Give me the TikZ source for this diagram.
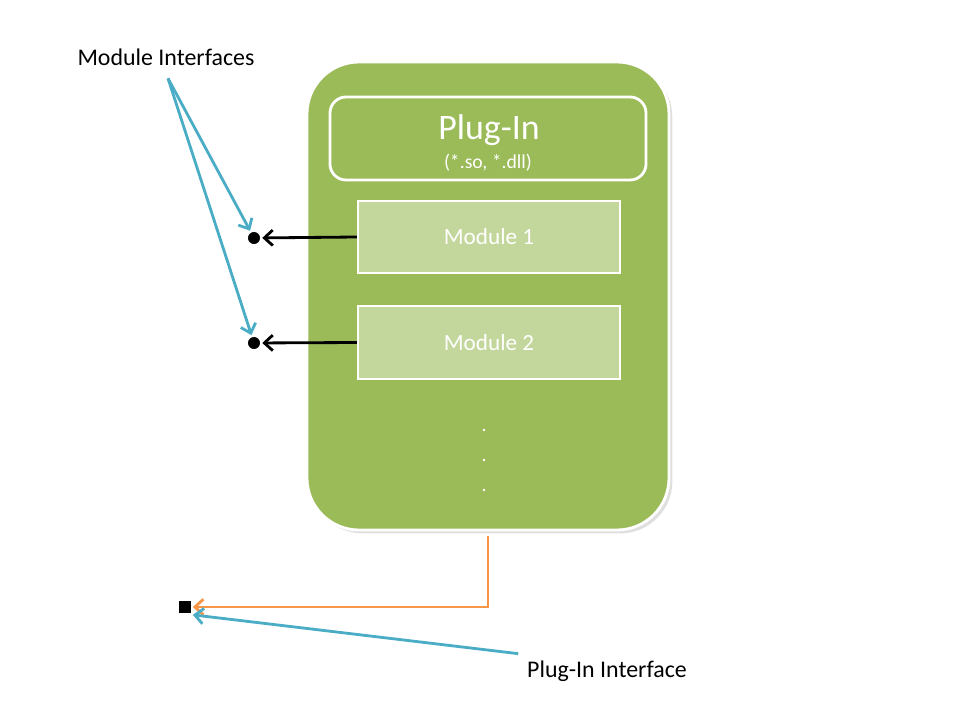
\documentclass[tikz,border=0pt]{standalone}
\usepackage{fontspec}
\setmainfont{Carlito}
\usepackage{tikz}
\usetikzlibrary{arrows.meta,calc,positioning,fit,shadows}
\definecolor{plgreen}{HTML}{9BBB59}
\definecolor{modgreen}{HTML}{C3D69B}
\definecolor{callblue}{HTML}{4BACC6}
\definecolor{linkorange}{HTML}{F79646}

\begin{document}
\begin{tikzpicture}[x=0.025cm, y=-0.025cm,
	arrow/.style = {line width=2pt,-{Straight Barb[length=6pt,width=11pt]}},
	callout/.style = {arrow, draw=callblue},
	label/.style = {font=\fontsize{17}{20}\selectfont, text=black}]
		\tikzset{modbox/.style={draw=white,line width=1.5pt,fill=modgreen,inner sep=0pt,text=white,drop shadow={opacity=0.25,shadow xshift=1pt,shadow yshift=-1pt}}}
		\useasboundingbox (0,0) rectangle (960,720);

		\node[fit={(307,62) (669,530)}, inner sep=0pt, draw=white, line width=2pt, fill=plgreen, rounded corners=1.3cm, drop shadow={opacity=0.25}] (plugin) {};
		\node[fit={(330,97) (646,180)}, inner sep=0pt, draw=white, line width=2pt, fill=plgreen, rounded corners=0.4cm] (head) {};
		\node[text=white, font=\fontsize{25.5}{28}\selectfont] (headtitle) at (489,130) {Plug-In};
		\node[text=white, font=\fontsize{14}{16}\selectfont] (headext) at (488,163) {(*.so, *.dll)};

		\node[modbox, fit={(358,201) (620,273)}] (mod1) {};
		\node[text=white, font=\fontsize{16.5}{19}\selectfont] at (mod1.center) {Module 1};
		\node[modbox, fit={(358,306) (620,379)}] (mod2) {};
		\node[text=white, font=\fontsize{16.5}{19}\selectfont] at (mod2.center) {Module 2};

		\node[text=white, font=\fontsize{14}{16}\selectfont] (dot1) at (484,430) {.};
		\node[text=white, font=\fontsize{14}{16}\selectfont] (dot2) at (484,460) {.};
		\node[text=white, font=\fontsize{14}{16}\selectfont] (dot3) at (484,490) {.};

		\node[circle, fill=black, draw=white, line width=1.5pt, inner sep=0pt, minimum size=0.36cm] (mi1) at (254,238) {};
		\node[circle, fill=black, draw=white, line width=1.5pt, inner sep=0pt, minimum size=0.36cm] (mi2) at (254,343) {};
		\node[rectangle, fill=black, draw=white, line width=1.5pt, inner sep=0pt, minimum size=0.34cm] (pi) at (185,607) {};

		\node[label] (mitext) at (166,57) {Module Interfaces};
		\node[label] (pitext) at (607,671) {Plug-In Interface};

		\draw [arrow] (mod1.west) -- (mi1);
		\draw [arrow] (mod2.west) -- (mi2);
		\draw [arrow, draw=linkorange] ($(plugin.south)+(0,5)$) |- (pi);
		\draw [callout] ($(mitext.south)+(2,8)$) -- (mi1);
		\draw [callout] ($(mitext.south)+(2,8)$) -- (mi2);
		\draw [callout] ($(pitext.north west)+(-4,-2)$) -- (pi.south east);

	\end{tikzpicture}
\end{document}
